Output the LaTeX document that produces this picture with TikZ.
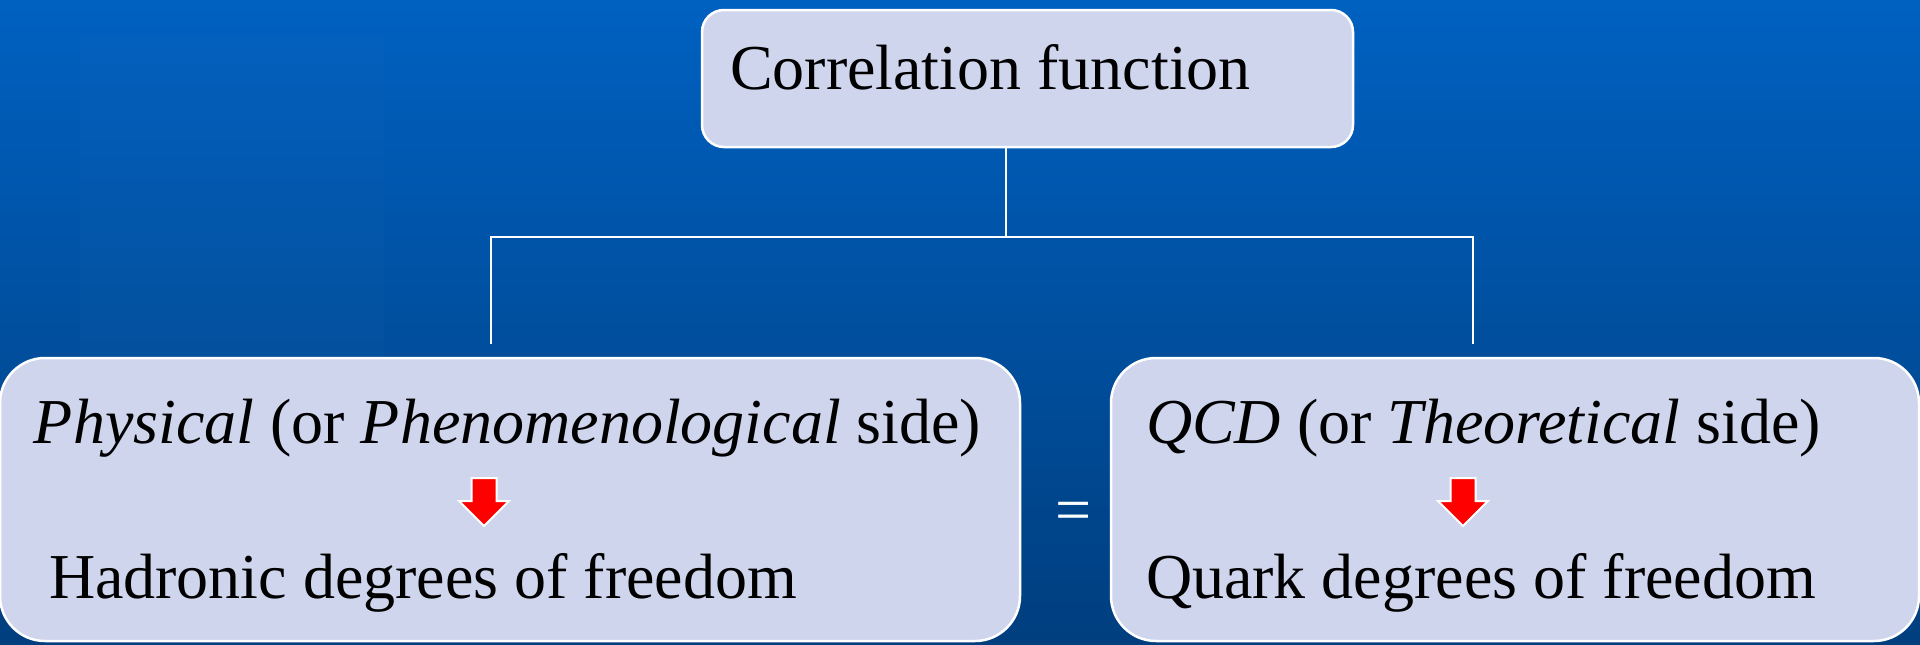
\documentclass[tikz,border=0pt]{standalone}
\usepackage{fontspec}
\setmainfont{Liberation Serif}
\definecolor{bgtop}{RGB}{0,97,193}
\definecolor{bgbot}{RGB}{0,62,126}
\definecolor{boxfill}{RGB}{206,213,237}
\begin{document}
\begin{tikzpicture}[x=1pt,y=-1pt,
  box/.style={draw=white, line width=2.5pt, fill=boxfill, inner sep=0pt, outer sep=0pt},
  lbl/.style={anchor=base west, inner sep=0pt, outer sep=0pt, font=\fontsize{64}{76}\selectfont, text=black},
  conn/.style={draw=white, line width=2.5pt},
  blockarrow/.style={fill=red, draw=white, line width=2pt, line join=miter}]
\useasboundingbox (0pt,0pt) rectangle (1920pt,-645pt);
% background
\shade[top color=bgtop, bottom color=bgbot] (0pt,0pt) rectangle (1920pt,-645pt);
\fill[white, opacity=0.012] (80,35) rectangle (384,645);
% boxes
\node[box, rounded corners=22pt, minimum width=651pt, minimum height=137pt, anchor=north west] (top) at (702,10) {};
\node[box, rounded corners=45pt, minimum width=1020pt, minimum height=283pt, anchor=north west] (left) at (0,358) {};
\node[box, rounded corners=45pt, minimum width=808pt, minimum height=283pt, anchor=north west] (right) at (1111,358) {};
% texts
\node[lbl] (t1) at (730,89) {Correlation function};
\node[lbl] (l1) at (34,443) {\textit{Physical} (or \textit{Phenomenological} side)};
\node[lbl] (l2) at (49,598) {Hadronic degrees of freedom};
\node[lbl] (r1) at (1146,443) {\textit{QCD} (or \textit{Theoretical} side)};
\node[lbl] (r2) at (1146,598) {Quark degrees of freedom};
\node[lbl, text=white] (eq) at (1055,531) {=};
% connectors
\coordinate (hub) at (1006,237);
\coordinate (lj) at (491,237);
\coordinate (rj) at (1473,237);
\coordinate (le) at (491,344);
\coordinate (re) at (1473,344);
\draw[conn] (hub |- top.south) -- (hub);
\draw[conn] (le) -- (lj) -- (rj) -- (re);
% red block arrows
\draw[blockarrow, shift={(484,478)}] (-12.5,0) -- (12.5,0) -- (12.5,23) -- (25,23) -- (0,48) -- (-25,23) -- (-12.5,23) -- cycle;
\draw[blockarrow, shift={(1463,478)}] (-12.5,0) -- (12.5,0) -- (12.5,23) -- (25,23) -- (0,48) -- (-25,23) -- (-12.5,23) -- cycle;
\end{tikzpicture}
\end{document}
